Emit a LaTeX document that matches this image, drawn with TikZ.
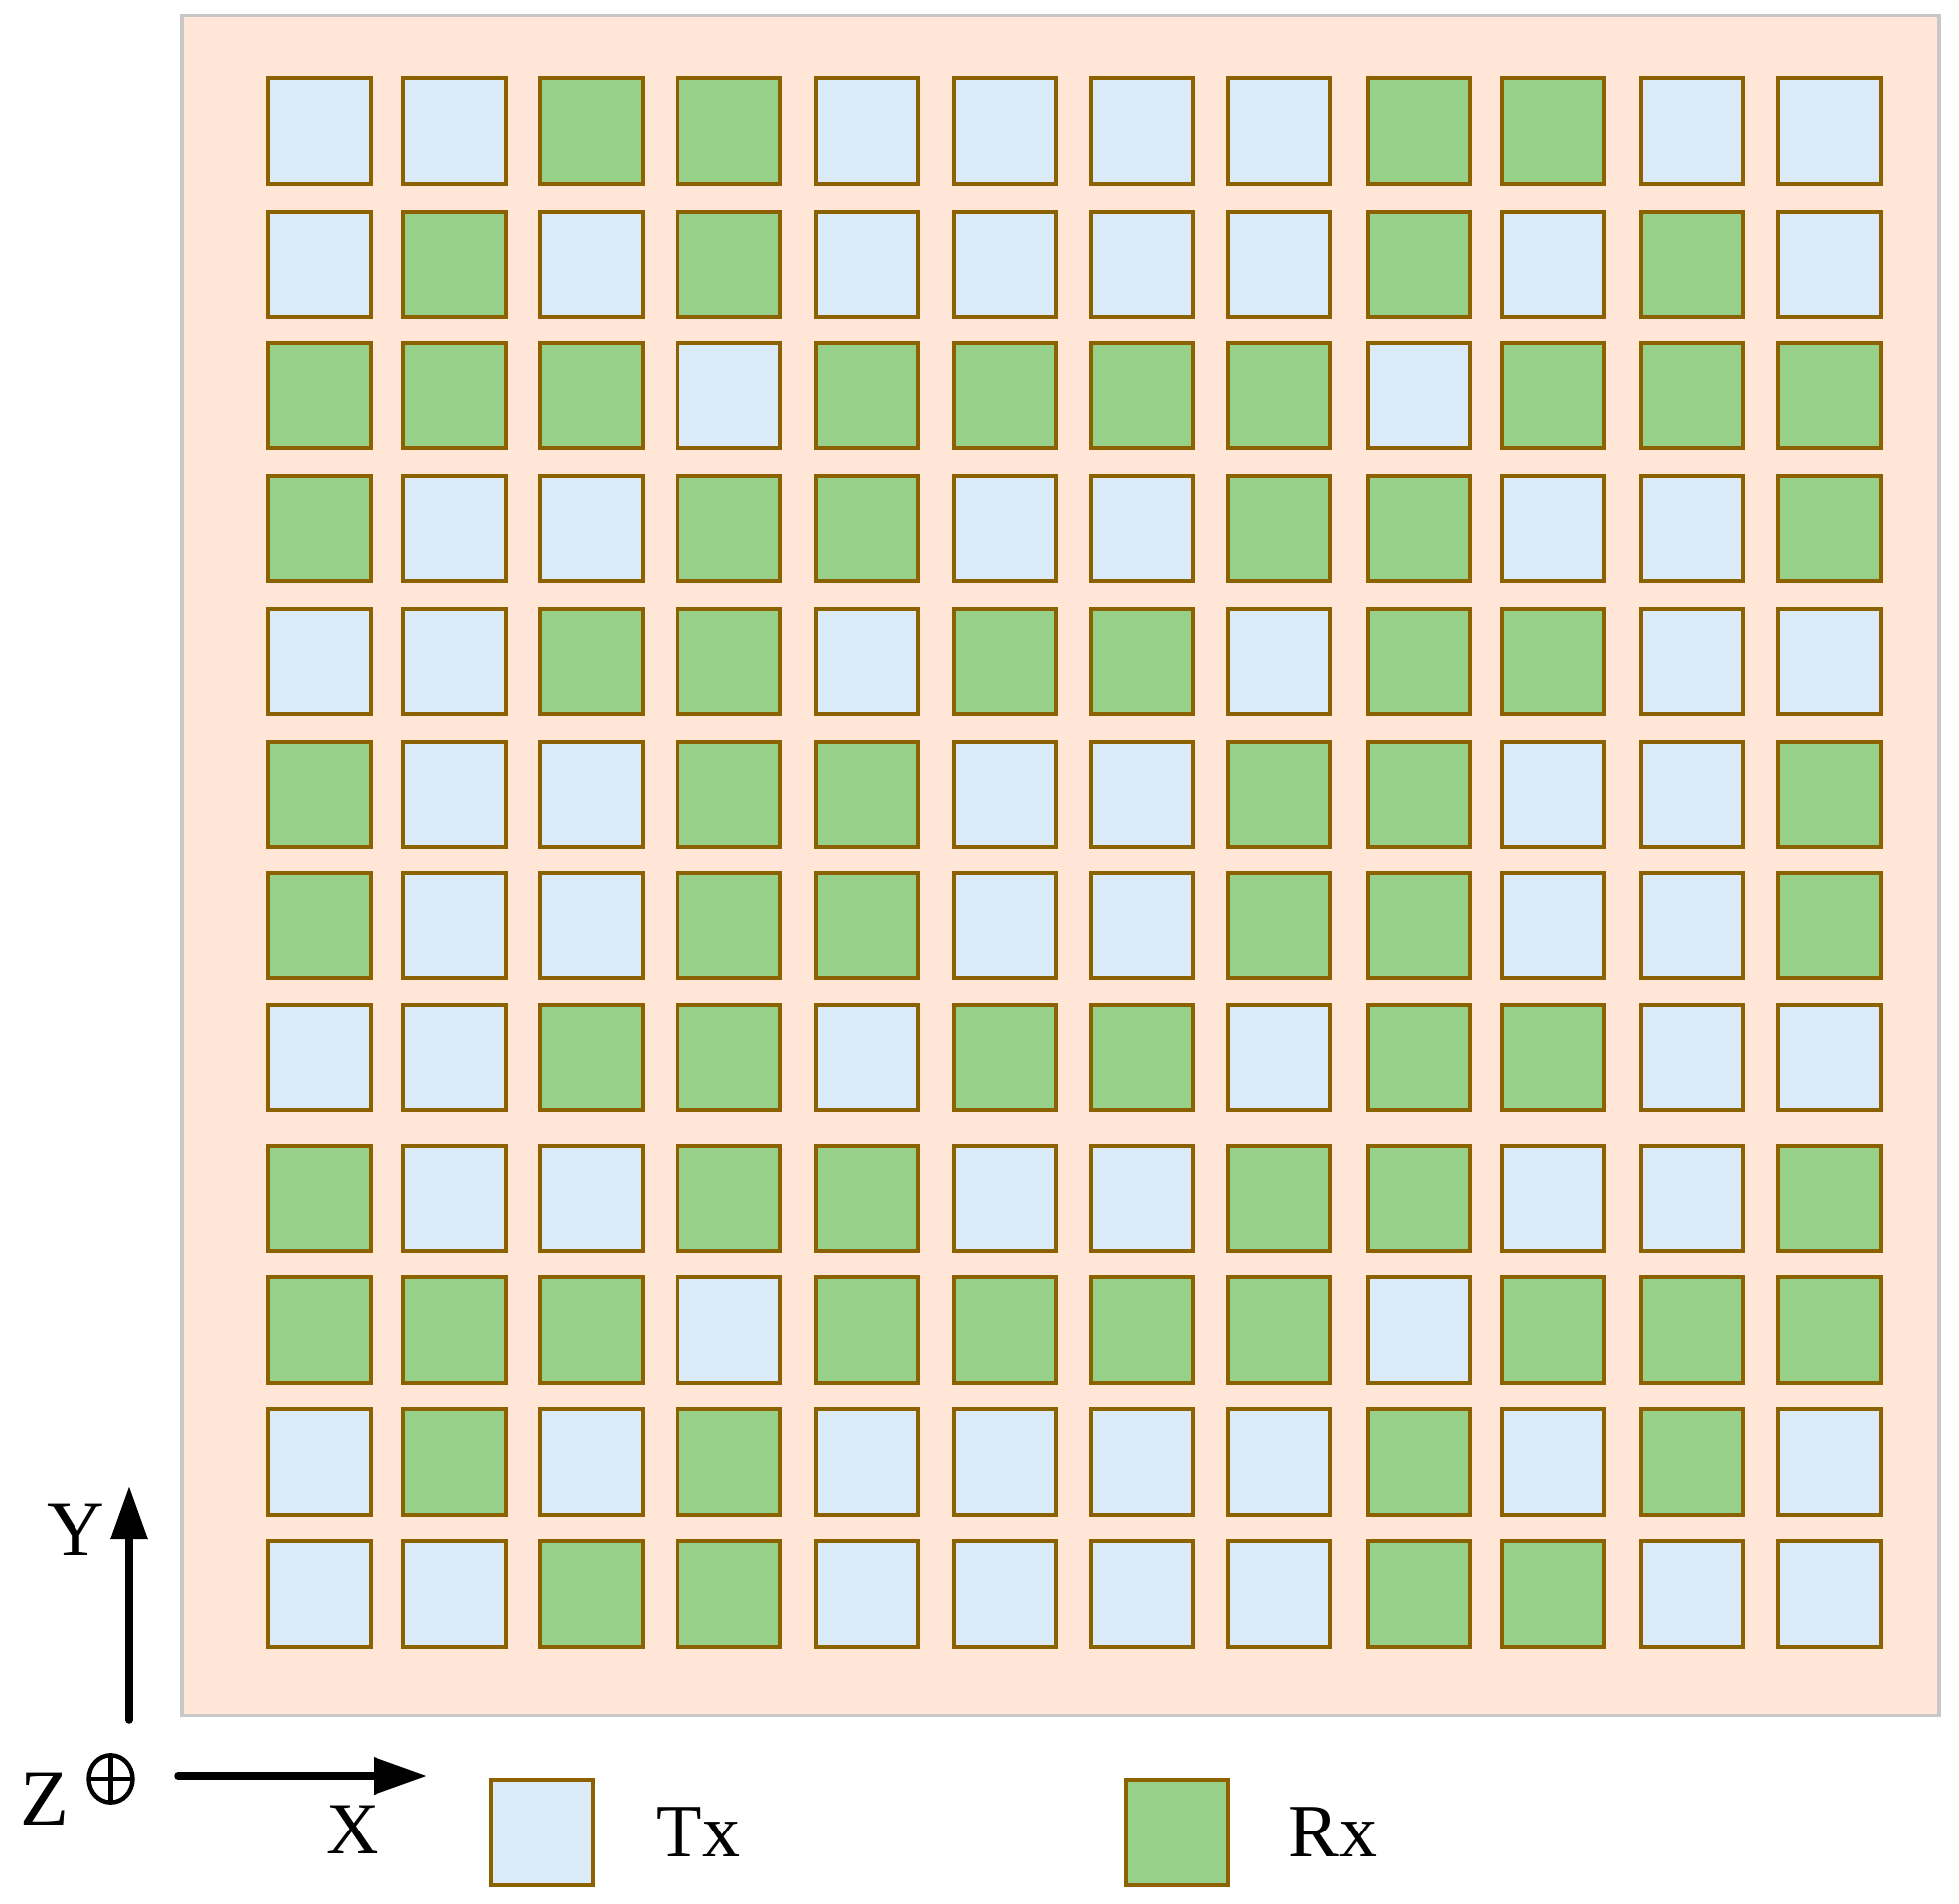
\documentclass[tikz,border=0pt]{standalone}
\usepackage{fontspec}
\setmainfont{Liberation Serif}
\usetikzlibrary{arrows.meta}
\definecolor{txfill}{RGB}{218,235,247}
\definecolor{rxfill}{RGB}{151,208,137}
\definecolor{cellline}{RGB}{140,98,0}
\definecolor{bgfill}{RGB}{255,230,214}
\definecolor{bgline}{RGB}{200,200,200}
\begin{document}
\begin{tikzpicture}[x=0.5pt,y=-0.5pt,
  cell/.style={draw=cellline, line width=2pt, inner sep=0pt, minimum width=51.5pt, minimum height=53pt},
  axis/.style={line width=3.75pt, line cap=round, -{Triangle[length=27pt,width=18pt]}},
  lbl/.style={font=\fontsize{40}{48}\selectfont, inner sep=0pt, anchor=base},
  leg/.style={font=\fontsize{38}{46}\selectfont, inner sep=0pt, anchor=base}]
\useasboundingbox (0,0) rectangle (1972,1917);
\draw[fill=bgfill, draw=bgline, line width=1.6pt] (183,15.5) rectangle (1952,1727.5);
\foreach \ty/\pat [count=\r] in {
  132/{0,0,1,1,0,0,0,0,1,1,0,0},
  266/{0,1,0,1,0,0,0,0,1,0,1,0},
  398/{1,1,1,0,1,1,1,1,0,1,1,1},
  532/{1,0,0,1,1,0,0,1,1,0,0,1},
  666/{0,0,1,1,0,1,1,0,1,1,0,0},
  800/{1,0,0,1,1,0,0,1,1,0,0,1},
  932/{1,0,0,1,1,0,0,1,1,0,0,1},
  1065/{0,0,1,1,0,1,1,0,1,1,0,0},
  1207/{1,0,0,1,1,0,0,1,1,0,0,1},
  1339/{1,1,1,0,1,1,1,1,0,1,1,1},
  1472/{0,1,0,1,0,0,0,0,1,0,1,0},
  1605/{0,0,1,1,0,0,0,0,1,1,0,0}}{
  \foreach \v [count=\c] in \pat {
    \pgfmathsetmacro\tx{{321.5,457.5,595.5,733.5,872.5,1011.5,1149.5,1287.5,1428.5,1563.5,1703.5,1841.5}[\c-1]}
    \ifnum\v=1 \def\cf{rxfill}\else\def\cf{txfill}\fi
    \node[cell, fill=\cf] (s-\r-\c) at (\tx,\ty) {};
  }
}
% axes
\coordinate (yo) at (130,1732);
\coordinate (yt) at (130,1496);
\coordinate (xo) at (179,1788);
\coordinate (xt) at (430,1788);
\draw[axis] (yo) -- (yt);
\draw[axis] (xo) -- (xt);
\node[lbl] (ylbl) at (76.5,1566.5) {Y};
\node[lbl] (zlbl) at (44.5,1837.5) {Z};
\node[lbl, font=\fontsize{37}{44}\selectfont] (xlbl) at (355,1866.5) {X};
\draw[line width=2.2pt] (111.5,1791) ellipse [x radius=22, y radius=23.7];
\draw[line width=2.2pt] (111.5,1767.3) -- (111.5,1814.7);
\draw[line width=2.2pt] (89.5,1791) -- (133.5,1791);
% legend
\node[cell, fill=txfill] (txbox) at (545.5,1845) {};
\node[cell, fill=rxfill] (rxbox) at (1184,1844.5) {};
\node[leg] (txlbl) at (703,1869) {Tx};
\node[leg] (rxlbl) at (1342,1869) {Rx};
\end{tikzpicture}
\end{document}
